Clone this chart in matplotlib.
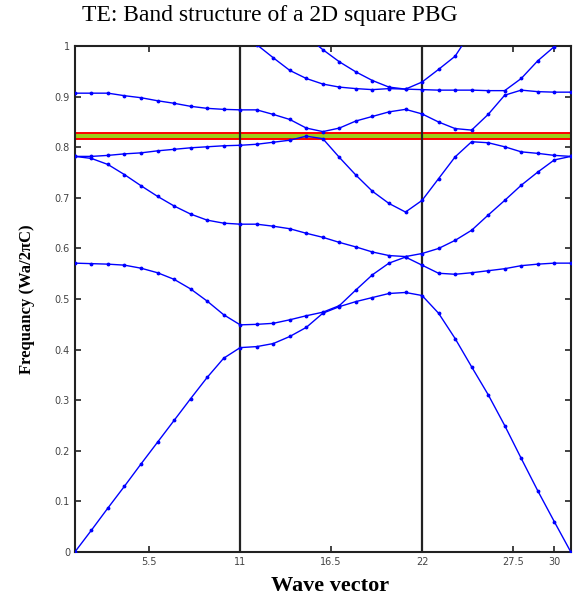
import numpy as np
import matplotlib.pyplot as plt

nan = np.nan

# wave-vector index along Gamma-X-M-Gamma
K = np.arange(1, 32)

# TE bands (normalized frequency wa/2pic)
BAND1 = [0.000, 0.043, 0.087, 0.130, 0.174, 0.217, 0.260, 0.303, 0.345, 0.383, 0.404,
         0.406, 0.412, 0.426, 0.444, 0.472, 0.485, 0.495, 0.503, 0.511, 0.513,
         0.507, 0.472, 0.422, 0.366, 0.311, 0.250, 0.185, 0.121, 0.060, 0.000]
BAND2 = [0.571, 0.570, 0.569, 0.567, 0.561, 0.552, 0.539, 0.520, 0.496, 0.469, 0.449,
         0.450, 0.452, 0.459, 0.467, 0.474, 0.487, 0.518, 0.548, 0.571, 0.583,
         0.567, 0.551, 0.549, 0.552, 0.556, 0.560, 0.566, 0.569, 0.571, 0.571]
BAND3 = [0.782, 0.778, 0.766, 0.746, 0.724, 0.703, 0.684, 0.668, 0.656, 0.650, 0.648,
         0.648, 0.644, 0.639, 0.630, 0.622, 0.612, 0.603, 0.593, 0.586, 0.584,
         0.590, 0.600, 0.616, 0.636, 0.666, 0.695, 0.725, 0.751, 0.775, 0.782]
BAND4 = [0.782, 0.782, 0.784, 0.787, 0.789, 0.793, 0.796, 0.799, 0.801, 0.803, 0.804,
         0.806, 0.810, 0.814, 0.822, 0.817, 0.780, 0.745, 0.713, 0.689, 0.672,
         0.695, 0.738, 0.781, 0.811, 0.809, 0.801, 0.791, 0.788, 0.784, 0.782]
BAND5 = [0.907, 0.907, 0.907, 0.902, 0.898, 0.892, 0.887, 0.881, 0.877, 0.875, 0.874,
         0.874, 0.865, 0.855, 0.838, 0.831, 0.838, 0.852, 0.861, 0.870, 0.875,
         0.866, 0.850, 0.837, 0.834, 0.865, 0.903, 0.913, 0.910, 0.909, 0.909]
BAND6 = [nan, nan, nan, nan, nan, nan, nan, nan, nan, nan, nan,
         1.003, 0.977, 0.952, 0.936, 0.925, 0.919, 0.916, 0.914, 0.916, 0.915,
         0.914, 0.913, 0.913, 0.913, 0.912, 0.912, 0.936, 0.971, 0.999, nan]
BAND7 = [nan, nan, nan, nan, nan, nan, nan, nan, nan, nan, nan,
         nan, nan, nan, 1.020, 0.993, 0.969, 0.949, 0.932, 0.919, 0.915,
         0.929, 0.954, 0.980, 1.030, nan, nan, nan, nan, nan, nan]
BANDS = [BAND1, BAND2, BAND3, BAND4, BAND5, BAND6, BAND7]

GAP_LOW, GAP_HIGH = 0.817, 0.828      # band gap strip
SYM_POINTS = [11, 22]                 # vertical separators
XTICKS = [5.5, 11, 16.5, 22, 27.5, 30]
YTICKS = [0, 0.1, 0.2, 0.3, 0.4, 0.5, 0.6, 0.7, 0.8, 0.9, 1]
YTICKLABELS = ['0', '0.1', '0.2', '0.3', '0.4', '0.5', '0.6', '0.7', '0.8', '0.9', '1']

fig = plt.figure(figsize=(5.76, 5.99), dpi=100)
ax = fig.add_axes([0.130, 0.0785, 0.861, 0.8445])

ax.axhspan(GAP_LOW, GAP_HIGH, facecolor='#9ccd1a', edgecolor='none', zorder=1)
for g in (GAP_LOW, GAP_HIGH):
    ax.axhline(g, color='red', lw=1.4, zorder=2)

for xv in SYM_POINTS:
    ax.axvline(xv, color='#222222', lw=1.6, zorder=2)

for b in BANDS:
    ax.plot(K, b, '-', color='blue', lw=1.0, marker='.', ms=3.5, zorder=3)

ax.set_xlim(1, 31)
ax.set_ylim(0, 1)
ax.set_xticks(XTICKS)
ax.set_xticklabels(['5.5', '11', '16.5', '22', '27.5', '30'])
ax.set_yticks(YTICKS)
ax.set_yticklabels(YTICKLABELS)
ax.tick_params(direction='in', length=4, width=1.2, top=True, right=True,
               labelsize=7, labelcolor='#444444', colors='#222222')
for s in ax.spines.values():
    s.set_linewidth(1.5)
    s.set_color('#222222')

ax.set_ylabel('Frequancy (Wa/2\u03c0C)', family='Liberation Serif', fontweight='bold',
              fontsize=12, labelpad=14)
fig.text(0.573, 1 - 586 / 599, 'Wave vector', family='Liberation Serif',
         fontweight='bold', fontsize=16, ha='center', va='center')
fig.text(0.469, 1 - 15 / 599, 'TE: Band structure of a 2D square PBG',
         family='Liberation Serif', fontsize=17, ha='center', va='center')

fig.savefig('out.png', dpi=100)
